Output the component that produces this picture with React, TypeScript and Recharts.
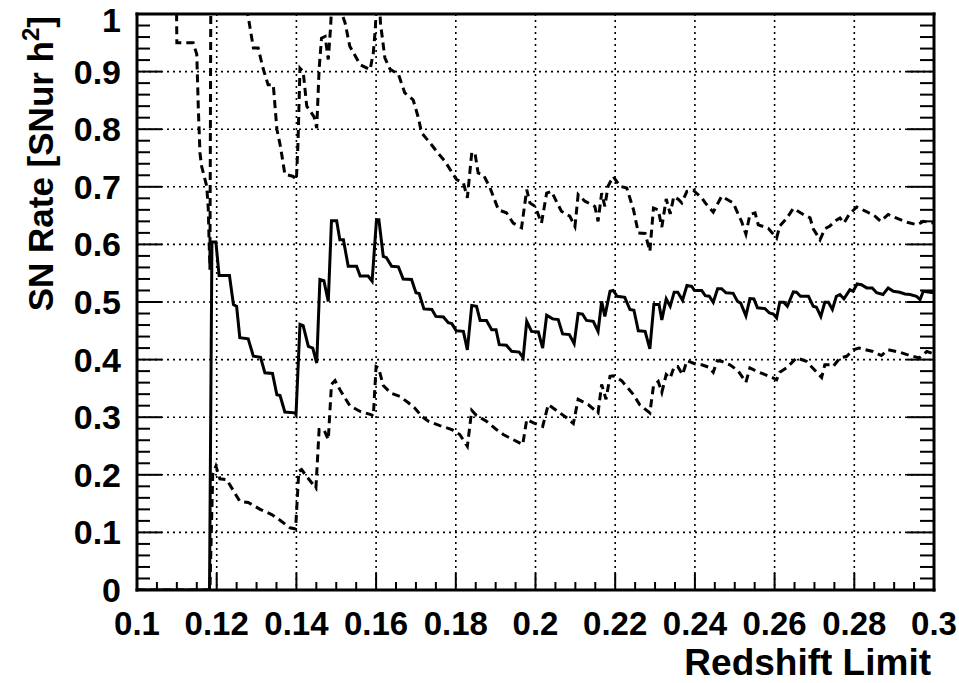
import { CartesianGrid, Line, LineChart, XAxis, YAxis } from 'recharts';

type Pt = [number, number];

// axis ticks and labels
const X_MAJOR = [0.1, 0.12, 0.14, 0.16, 0.18, 0.2, 0.22, 0.24, 0.26, 0.28, 0.3];
const X_LABELS = ['0.1', '0.12', '0.14', '0.16', '0.18', '0.2', '0.22', '0.24', '0.26', '0.28', '0.3'];
const Y_MAJOR = [0, 0.1, 0.2, 0.3, 0.4, 0.5, 0.6, 0.7, 0.8, 0.9, 1];
const Y_LABELS = ['0', '0.1', '0.2', '0.3', '0.4', '0.5', '0.6', '0.7', '0.8', '0.9', '1'];
const X_TITLE = 'Redshift Limit';
const Y_TITLE = 'SN Rate [SNur h';
const Y_TITLE_SUP = '2';

// central rate vs redshift limit
const rate: Pt[] = [
  [0.1, 0], [0.1182, 0], [0.1188, 0.604], [0.1198, 0.604], [0.1206, 0.546], [0.1232, 0.546],
  [0.1242, 0.4955], [0.125, 0.4925], [0.1258, 0.438], [0.1279, 0.436], [0.1292, 0.406], [0.131, 0.404],
  [0.1321, 0.377], [0.134, 0.376], [0.1351, 0.339], [0.1359, 0.3375], [0.1371, 0.309], [0.1396, 0.3075],
  [0.1399, 0.3045], [0.1409, 0.461], [0.1417, 0.459], [0.143, 0.423], [0.1441, 0.42], [0.1451, 0.394],
  [0.1459, 0.539], [0.1469, 0.537], [0.148, 0.501], [0.1488, 0.641], [0.1501, 0.641], [0.1509, 0.608],
  [0.1518, 0.608], [0.153, 0.562], [0.1551, 0.562], [0.156, 0.545], [0.158, 0.545], [0.159, 0.536],
  [0.1601, 0.643], [0.1607, 0.643], [0.1618, 0.579], [0.1626, 0.577], [0.1639, 0.562], [0.1656, 0.561],
  [0.1668, 0.54], [0.1689, 0.539], [0.17, 0.516], [0.1708, 0.5146], [0.172, 0.488], [0.174, 0.487],
  [0.175, 0.475], [0.1769, 0.474], [0.1781, 0.464], [0.179, 0.4625], [0.1801, 0.45], [0.1819, 0.449],
  [0.1829, 0.417], [0.184, 0.494], [0.1852, 0.4925], [0.1861, 0.468], [0.1877, 0.468], [0.189, 0.452],
  [0.1901, 0.452], [0.1909, 0.426], [0.1927, 0.425], [0.194, 0.4145], [0.1959, 0.413], [0.1969, 0.403],
  [0.1978, 0.4665], [0.199, 0.449], [0.2007, 0.448], [0.2018, 0.42], [0.2028, 0.477], [0.2043, 0.4707],
  [0.2057, 0.4694], [0.2068, 0.4446], [0.2085, 0.4434], [0.2097, 0.4278], [0.2107, 0.48], [0.2118, 0.479],
  [0.2128, 0.468], [0.2145, 0.4665], [0.2157, 0.449], [0.2166, 0.501], [0.2174, 0.475], [0.2187, 0.5186],
  [0.2195, 0.52], [0.2205, 0.51], [0.2224, 0.508], [0.2237, 0.487], [0.2247, 0.4856], [0.2258, 0.45],
  [0.2275, 0.449], [0.2287, 0.4186], [0.2297, 0.4955], [0.231, 0.4955], [0.2317, 0.469], [0.2328, 0.5054],
  [0.2338, 0.4925], [0.2348, 0.517], [0.2357, 0.517], [0.2369, 0.503], [0.238, 0.5285], [0.2392, 0.527],
  [0.2399, 0.52], [0.2417, 0.52], [0.2426, 0.511], [0.2436, 0.51], [0.2446, 0.4995], [0.2457, 0.523],
  [0.2467, 0.523], [0.2478, 0.516], [0.2496, 0.515], [0.2507, 0.501], [0.2515, 0.498], [0.2528, 0.476],
  [0.2538, 0.506], [0.2548, 0.5054], [0.2557, 0.49], [0.2576, 0.4885], [0.2587, 0.481], [0.2597, 0.479],
  [0.2605, 0.4724], [0.2613, 0.4995], [0.2623, 0.4995], [0.2632, 0.4925], [0.2647, 0.5175], [0.2655, 0.517],
  [0.2665, 0.51], [0.2685, 0.51], [0.2697, 0.4925], [0.2705, 0.491], [0.2716, 0.475], [0.2726, 0.4995],
  [0.2735, 0.4995], [0.2745, 0.487], [0.2755, 0.51], [0.2764, 0.513], [0.2774, 0.5054], [0.2789, 0.5215],
  [0.2797, 0.5186], [0.2807, 0.5314], [0.2818, 0.53], [0.2831, 0.5245], [0.2845, 0.5245], [0.2856, 0.516],
  [0.2872, 0.513], [0.2885, 0.5245], [0.2898, 0.5186], [0.2914, 0.517], [0.2927, 0.514], [0.294, 0.513],
  [0.2956, 0.51], [0.2965, 0.504], [0.2973, 0.5186], [0.299, 0.517], [0.3, 0.516],
];

// upper bound
const upper: Pt[] = [
  [0.1, 1.4], [0.1098, 1.1], [0.11, 0.95], [0.1141, 0.95], [0.115, 0.93], [0.1154, 0.834],
  [0.1158, 0.759], [0.1162, 0.736], [0.1175, 0.701], [0.1179, 0.66], [0.1181, 0.603], [0.1183, 0.556],
  [0.1187, 1.4], [0.1206, 1.25], [0.1242, 1.12], [0.127, 1.02], [0.1279, 0.996], [0.1292, 0.941],
  [0.1304, 0.941], [0.1317, 0.904], [0.1329, 0.877], [0.1342, 0.877], [0.1351, 0.8], [0.136, 0.77],
  [0.1371, 0.722], [0.1392, 0.718], [0.14, 0.712], [0.1404, 0.776], [0.1409, 0.906], [0.1417, 0.9],
  [0.1426, 0.84], [0.1444, 0.822], [0.1451, 0.802], [0.1457, 0.904], [0.1463, 0.958], [0.1472, 0.961],
  [0.148, 0.921], [0.1486, 0.979], [0.149, 1.04], [0.1501, 1.04], [0.1512, 1.005], [0.1522, 0.985],
  [0.1534, 0.944], [0.156, 0.912], [0.1585, 0.9035], [0.1593, 0.9325], [0.1598, 0.973], [0.1602, 1.04],
  [0.1607, 1.04], [0.1611, 0.984], [0.1622, 0.924], [0.1635, 0.904], [0.1656, 0.8955], [0.1672, 0.863],
  [0.1693, 0.851], [0.1706, 0.82], [0.1714, 0.794], [0.1739, 0.773], [0.1756, 0.758], [0.1773, 0.744],
  [0.1794, 0.721], [0.1802, 0.7125], [0.1819, 0.707], [0.1829, 0.681], [0.184, 0.759], [0.1848, 0.759],
  [0.1856, 0.724], [0.187, 0.72], [0.1886, 0.698], [0.1907, 0.66], [0.1927, 0.655], [0.1944, 0.637],
  [0.1965, 0.629], [0.1978, 0.695], [0.1986, 0.672], [0.1999, 0.666], [0.2015, 0.637], [0.2028, 0.689],
  [0.204, 0.692], [0.2065, 0.6575], [0.2086, 0.649], [0.2099, 0.631], [0.2107, 0.6865], [0.2124, 0.675],
  [0.2149, 0.666], [0.2157, 0.64], [0.2166, 0.689], [0.2174, 0.666], [0.2182, 0.701], [0.2195, 0.718],
  [0.2212, 0.701], [0.2229, 0.698], [0.2246, 0.66], [0.2258, 0.62], [0.2275, 0.619], [0.2287, 0.588],
  [0.2296, 0.663], [0.2308, 0.66], [0.2317, 0.63], [0.2328, 0.679], [0.2338, 0.653], [0.2347, 0.683],
  [0.2359, 0.678], [0.2367, 0.672], [0.238, 0.692], [0.2396, 0.694], [0.2417, 0.681], [0.2426, 0.672],
  [0.2446, 0.656], [0.2467, 0.6835], [0.2496, 0.672], [0.2517, 0.64], [0.2528, 0.618], [0.2538, 0.652],
  [0.2551, 0.6547], [0.2559, 0.634], [0.2584, 0.628], [0.2605, 0.611], [0.2613, 0.632], [0.263, 0.645],
  [0.2647, 0.6625], [0.2672, 0.652], [0.2689, 0.646], [0.2697, 0.627], [0.2714, 0.608], [0.2726, 0.627],
  [0.2739, 0.632], [0.2755, 0.642], [0.2764, 0.646], [0.2774, 0.637], [0.2787, 0.652], [0.2806, 0.665],
  [0.2829, 0.6575], [0.2852, 0.649], [0.2866, 0.64], [0.2885, 0.652], [0.2908, 0.645], [0.2935, 0.638],
  [0.2958, 0.634], [0.2973, 0.64], [0.3, 0.637],
];

// lower bound
const lower: Pt[] = [
  [0.1, 0], [0.1183, 0], [0.119, 0.2], [0.1198, 0.2148], [0.1208, 0.193], [0.1225, 0.1917],
  [0.1258, 0.154], [0.1279, 0.152], [0.1309, 0.14], [0.1338, 0.131], [0.1359, 0.121], [0.1384, 0.108],
  [0.1398, 0.106], [0.1406, 0.206], [0.1413, 0.209], [0.1426, 0.197], [0.1449, 0.177], [0.1457, 0.2785],
  [0.1469, 0.2785], [0.148, 0.261], [0.1488, 0.357], [0.1497, 0.3635], [0.1509, 0.348], [0.1534, 0.32],
  [0.156, 0.31], [0.1587, 0.3045], [0.1593, 0.302], [0.16, 0.388], [0.1606, 0.386], [0.1618, 0.355],
  [0.1637, 0.342], [0.166, 0.336], [0.1681, 0.325], [0.1697, 0.316], [0.1714, 0.302], [0.1731, 0.293],
  [0.176, 0.2854], [0.179, 0.2785], [0.181, 0.27], [0.1829, 0.2495], [0.184, 0.312], [0.1852, 0.303],
  [0.1877, 0.293], [0.1902, 0.2785], [0.1919, 0.27], [0.1944, 0.261], [0.1968, 0.2525], [0.1978, 0.296],
  [0.1995, 0.29], [0.2018, 0.284], [0.2032, 0.322], [0.2061, 0.3075], [0.2078, 0.299], [0.2095, 0.289],
  [0.2107, 0.331], [0.2132, 0.322], [0.2157, 0.3075], [0.2166, 0.357], [0.2177, 0.331], [0.2187, 0.371],
  [0.2195, 0.372], [0.2216, 0.3635], [0.2246, 0.339], [0.2262, 0.321], [0.2287, 0.3075], [0.2296, 0.354],
  [0.2308, 0.362], [0.2317, 0.343], [0.2328, 0.374], [0.2338, 0.368], [0.2348, 0.388], [0.2357, 0.388],
  [0.2369, 0.374], [0.238, 0.398], [0.2401, 0.3925], [0.2417, 0.391], [0.2434, 0.387], [0.2446, 0.378],
  [0.2456, 0.398], [0.2467, 0.397], [0.2488, 0.391], [0.2509, 0.38], [0.2528, 0.3606], [0.2538, 0.3856],
  [0.2554, 0.38], [0.2576, 0.374], [0.2597, 0.368], [0.2605, 0.365], [0.2613, 0.378], [0.263, 0.3856],
  [0.2655, 0.403], [0.268, 0.397], [0.2701, 0.3815], [0.2718, 0.369], [0.2726, 0.391], [0.2739, 0.391],
  [0.2747, 0.388], [0.2764, 0.403], [0.2781, 0.4057], [0.2797, 0.417], [0.2812, 0.42], [0.2847, 0.414],
  [0.2868, 0.407], [0.2885, 0.417], [0.2914, 0.4127], [0.294, 0.407], [0.2963, 0.403], [0.2982, 0.414],
  [0.3, 0.41],
];

const FONT = '"Liberation Sans", Arial, Helvetica, sans-serif';

const toRows = (pts: Pt[]) => pts.map(([x, y]) => ({ x, y }));

const xTicks = Array.from({ length: 41 }, (_, i) => Number((0.1 + i * 0.005).toFixed(3)));
const yTicks = Array.from({ length: 51 }, (_, i) => Number((i * 0.02).toFixed(2)));

const majorIndex = (list: number[], v: number) => list.findIndex((m) => Math.abs(m - v) < 1e-6);

function BottomTick({ x, y, payload }: any) {
  const i = majorIndex(X_MAJOR, payload.value);
  return (
    <g>
      <line x1={x} x2={x} y1={y} y2={y - (i >= 0 ? 17 : 8)} stroke="#000" strokeWidth={2} />
      {i >= 0 && (
        <text x={x} y={y + 45} textAnchor="middle" fontSize={33} fontWeight="bold" fontFamily={FONT} fill="#000">
          {X_LABELS[i]}
        </text>
      )}
    </g>
  );
}

function TopTick({ x, y, payload }: any) {
  const major = majorIndex(X_MAJOR, payload.value) >= 0;
  return <line x1={x} x2={x} y1={y} y2={y + (major ? 15 : 8)} stroke="#000" strokeWidth={2} />;
}

function LeftTick({ x, y, payload }: any) {
  const i = majorIndex(Y_MAJOR, payload.value);
  // the top label sits a little lower so it stays inside the page
  const dy = i === Y_MAJOR.length - 1 ? 18 : 12;
  return (
    <g>
      <line x1={x} x2={x + (i >= 0 ? 25 : 13)} y1={y} y2={y} stroke="#000" strokeWidth={2} />
      {i >= 0 && (
        <text x={x - 16} y={y + dy} textAnchor="end" fontSize={34} fontWeight="bold" fontFamily={FONT} fill="#000">
          {Y_LABELS[i]}
        </text>
      )}
    </g>
  );
}

function RightTick({ x, y, payload }: any) {
  const major = majorIndex(Y_MAJOR, payload.value) >= 0;
  return <line x1={x} x2={x - (major ? 27 : 14)} y1={y} y2={y} stroke="#000" strokeWidth={2} />;
}

const frame = { stroke: '#000', strokeWidth: 3, strokeLinecap: 'square' as const };

export default function App() {
  return (
    <div style={{ position: 'fixed', left: 0, top: 0, width: 959, height: 683, background: '#fff' }}>
      <LineChart width={959} height={683} margin={{ top: 0, right: 0, bottom: 0, left: 0 }}>
        <CartesianGrid
          stroke="#000"
          strokeWidth={1.6}
          strokeDasharray="2 4"
          verticalValues={X_MAJOR}
          horizontalValues={Y_MAJOR}
        />
        <XAxis
          dataKey="x"
          type="number"
          domain={[0.1, 0.3]}
          allowDataOverflow
          ticks={xTicks}
          interval={0}
          height={93}
          tickSize={0}
          tickMargin={0}
          axisLine={frame}
          tick={(p: any) => <BottomTick {...p} />}
          label={() => (
            <text x={931} y={675} textAnchor="end" fontSize={37} fontWeight="bold" fontFamily={FONT} fill="#000">
              {X_TITLE}
            </text>
          )}
        />
        <XAxis
          xAxisId="top"
          orientation="top"
          type="number"
          domain={[0.1, 0.3]}
          allowDataOverflow
          ticks={xTicks}
          interval={0}
          height={14}
          tickSize={0}
          tickMargin={0}
          axisLine={frame}
          tick={(p: any) => <TopTick {...p} />}
        />
        <YAxis
          type="number"
          domain={[0, 1]}
          allowDataOverflow
          ticks={yTicks}
          interval={0}
          width={137}
          tickSize={0}
          tickMargin={0}
          axisLine={frame}
          tick={(p: any) => <LeftTick {...p} />}
          label={() => (
            <text
              transform="translate(53, 16) rotate(-90)"
              textAnchor="end"
              fontSize={35}
              fontWeight="bold"
              fontFamily={FONT}
              fill="#000"
            >
              {Y_TITLE}
              <tspan dy={-14} fontSize={24}>
                {Y_TITLE_SUP}
              </tspan>
              <tspan dy={14}>]</tspan>
            </text>
          )}
        />
        <YAxis
          yAxisId="right"
          orientation="right"
          type="number"
          domain={[0, 1]}
          allowDataOverflow
          ticks={yTicks}
          interval={0}
          width={25}
          tickSize={0}
          tickMargin={0}
          axisLine={frame}
          tick={(p: any) => <RightTick {...p} />}
        />
        <Line
          data={toRows(upper)}
          dataKey="y"
          type="linear"
          stroke="#000"
          strokeWidth={3}
          strokeDasharray="8 5"
          dot={false}
          isAnimationActive={false}
        />
        <Line
          data={toRows(lower)}
          dataKey="y"
          type="linear"
          stroke="#000"
          strokeWidth={3}
          strokeDasharray="8 5"
          dot={false}
          isAnimationActive={false}
        />
        <Line
          data={toRows(rate)}
          dataKey="y"
          type="linear"
          stroke="#000"
          strokeWidth={3}
          dot={false}
          isAnimationActive={false}
        />
      </LineChart>
    </div>
  );
}
